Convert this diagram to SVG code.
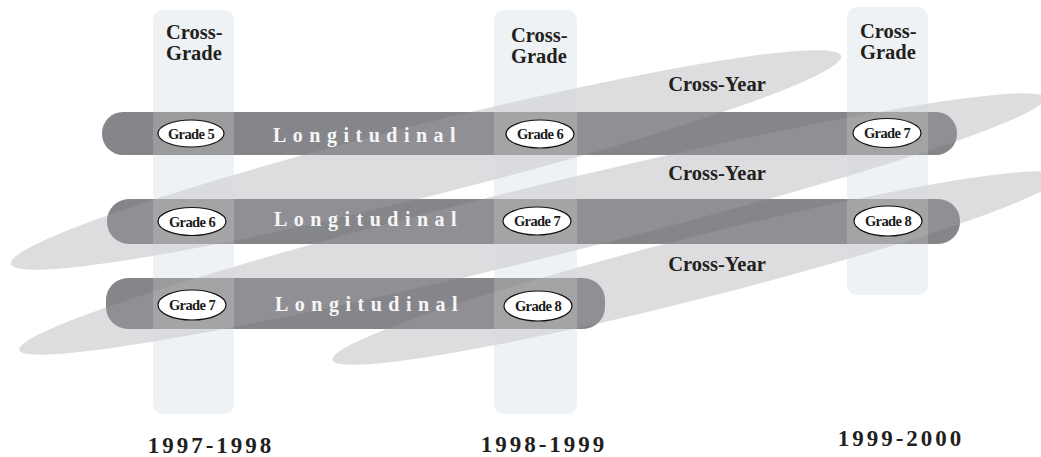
<svg xmlns="http://www.w3.org/2000/svg" width="1041" height="457" viewBox="0 0 1041 457">
  <style>
    .col-base { fill: #ecf0f3; }
    .col-glow { fill: #ffffff; fill-opacity: 0.18; }
    .bar { fill: #858689; }
    .band { fill: #a3a4a7; fill-opacity: 0.37; }
    .oval { fill: #ffffff; stroke: #111111; stroke-width: 1.2; }
    .oval-label { font-family: "Liberation Serif", "Times New Roman", serif; font-weight: bold; font-size: 14.5px; fill: #1a1a1a; text-anchor: middle; letter-spacing: -0.6px; }
    .long { font-family: "Liberation Serif", "Times New Roman", serif; font-weight: bold; font-size: 20px; fill: #f6f6f6; letter-spacing: 6.5px; }
    .head { font-family: "Liberation Serif", "Times New Roman", serif; font-weight: bold; font-size: 20.5px; fill: #231f20; }
    .year { font-family: "Liberation Serif", "Times New Roman", serif; font-weight: bold; font-size: 23px; fill: #231f20; text-anchor: middle; letter-spacing: 3px; }
  </style>
  <rect width="1041" height="457" fill="#ffffff"/>

  <!-- school-year columns: base tint -->
  <g id="columns-base">
    <rect class="col-base" x="153" y="10" width="81" height="404" rx="10"/>
    <rect class="col-base" x="494" y="10" width="83" height="404" rx="10"/>
    <rect class="col-base" x="847" y="7" width="81" height="288" rx="10"/>
  </g>

  <!-- longitudinal cohort bars -->
  <g id="bars">
    <rect id="bar-cohort-1" class="bar" x="102" y="112" width="855" height="43" rx="21"/>
    <rect id="bar-cohort-2" class="bar" x="107" y="199" width="853" height="45" rx="22"/>
    <rect id="bar-cohort-3" class="bar" x="106" y="278" width="499" height="51" rx="22"/>
  </g>

  <!-- cross-year bands -->
  <g id="connectors">
    <ellipse class="band" cx="426" cy="160" rx="428" ry="36" transform="rotate(-14.07 426 160)"/>
    <ellipse class="band" cx="532" cy="224" rx="528" ry="36" transform="rotate(-13.8 532 224)"/>
    <ellipse class="band" cx="696" cy="268" rx="375" ry="31" transform="rotate(-14.2 696 268)"/>
  </g>

  <!-- school-year columns: light overlay -->
  <g id="columns-glow">
    <rect class="col-glow" x="153" y="10" width="81" height="404" rx="10"/>
    <rect class="col-glow" x="494" y="10" width="83" height="404" rx="10"/>
    <rect class="col-glow" x="847" y="7" width="81" height="288" rx="10"/>
  </g>

  <g id="col-1997-head">
    <text class="head" x="166" y="39">Cross-</text>
    <text class="head" x="166" y="60">Grade</text>
  </g>
  <g id="col-1998-head">
    <text class="head" x="511" y="42">Cross-</text>
    <text class="head" x="511" y="63">Grade</text>
  </g>
  <g id="col-1999-head">
    <text class="head" x="860" y="38">Cross-</text>
    <text class="head" x="860" y="59">Grade</text>
  </g>

  <g id="cross-year-labels">
    <text class="head" x="717" y="91" text-anchor="middle">Cross-Year</text>
    <text class="head" x="717" y="180" text-anchor="middle">Cross-Year</text>
    <text class="head" x="717" y="271" text-anchor="middle">Cross-Year</text>
  </g>

  <g id="longitudinal-labels">
    <text class="long" x="273" y="142">Longitudinal</text>
    <text class="long" x="274" y="226">Longitudinal</text>
    <text class="long" x="275" y="311">Longitudinal</text>
  </g>

  <g id="node-r1-grade5">
    <ellipse class="oval" cx="191" cy="133.5" rx="33" ry="13.5"/>
    <text class="oval-label" x="191" y="138.5">Grade 5</text>
  </g>
  <g id="node-r1-grade6">
    <ellipse class="oval" cx="540" cy="134" rx="34" ry="14"/>
    <text class="oval-label" x="540" y="139">Grade 6</text>
  </g>
  <g id="node-r1-grade7">
    <ellipse class="oval" cx="887" cy="133" rx="34" ry="14.5"/>
    <text class="oval-label" x="887" y="138">Grade 7</text>
  </g>
  <g id="node-r2-grade6">
    <ellipse class="oval" cx="192" cy="221.5" rx="34" ry="14"/>
    <text class="oval-label" x="192" y="226.5">Grade 6</text>
  </g>
  <g id="node-r2-grade7">
    <ellipse class="oval" cx="537" cy="221" rx="34" ry="14"/>
    <text class="oval-label" x="537" y="226">Grade 7</text>
  </g>
  <g id="node-r2-grade8">
    <ellipse class="oval" cx="888" cy="221" rx="34" ry="15"/>
    <text class="oval-label" x="888" y="226">Grade 8</text>
  </g>
  <g id="node-r3-grade7">
    <ellipse class="oval" cx="192" cy="305" rx="34" ry="15"/>
    <text class="oval-label" x="192" y="310">Grade 7</text>
  </g>
  <g id="node-r3-grade8">
    <ellipse class="oval" cx="538" cy="306" rx="34" ry="15"/>
    <text class="oval-label" x="538" y="311">Grade 8</text>
  </g>

  <g id="year-labels">
    <text class="year" x="211" y="453">1997-1998</text>
    <text class="year" x="544" y="452">1998-1999</text>
    <text class="year" x="901" y="446">1999-2000</text>
  </g>
</svg>
